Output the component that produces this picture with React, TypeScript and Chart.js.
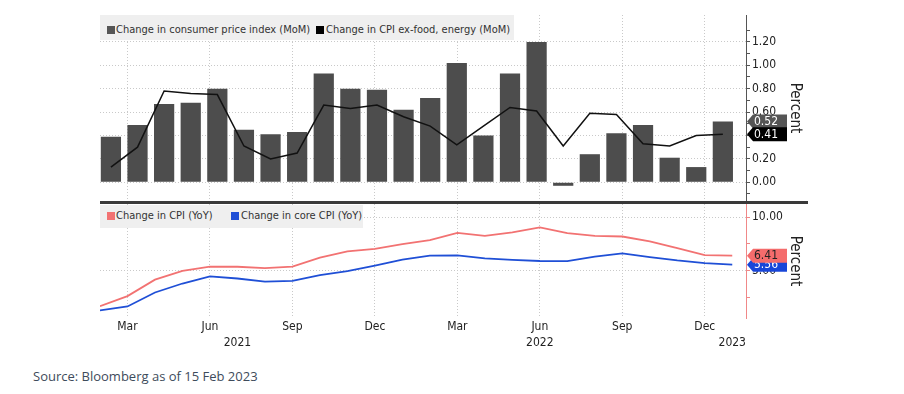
import React, { useEffect, useRef } from 'react';
import { Chart, registerables } from 'chart.js';

Chart.register(...registerables);

// ---- Data (Feb 2021 .. Jan 2023) ----
const months = [
  '2021-02', '2021-03', '2021-04', '2021-05', '2021-06', '2021-07', '2021-08', '2021-09',
  '2021-10', '2021-11', '2021-12', '2022-01', '2022-02', '2022-03', '2022-04', '2022-05',
  '2022-06', '2022-07', '2022-08', '2022-09', '2022-10', '2022-11', '2022-12', '2023-01',
];
const cpiMoM = [0.39, 0.49, 0.67, 0.68, 0.80, 0.45, 0.41, 0.43, 0.93, 0.80, 0.79, 0.62,
  0.72, 1.02, 0.40, 0.93, 1.20, -0.03, 0.24, 0.42, 0.49, 0.21, 0.13, 0.52];
const coreMoM = [0.13, 0.30, 0.78, 0.76, 0.75, 0.31, 0.20, 0.25, 0.66, 0.63, 0.66, 0.56,
  0.48, 0.32, 0.48, 0.64, 0.61, 0.31, 0.59, 0.58, 0.33, 0.31, 0.40, 0.41];
const cpiYoY = [1.68, 2.62, 4.16, 4.99, 5.39, 5.37, 5.25, 5.39, 6.22, 6.81, 7.04, 7.48,
  7.87, 8.54, 8.26, 8.58, 9.06, 8.52, 8.26, 8.20, 7.75, 7.11, 6.45, 6.41];
const coreYoY = [1.28, 1.65, 2.96, 3.80, 4.47, 4.27, 3.98, 4.04, 4.58, 4.96, 5.48, 6.04,
  6.41, 6.44, 6.16, 6.02, 5.91, 5.90, 6.32, 6.63, 6.27, 5.96, 5.71, 5.56];

const topMajorTicks = [0, 0.2, 0.4, 0.6, 0.8, 1.0, 1.2];
const topMinorTicks = [-0.1, 0.1, 0.3, 0.5, 0.7, 0.9, 1.1, 1.3];
const bottomMajorTicks = [5, 10];
const bottomMinorTicks = [2.5, 7.5];
const quarterNames: Record<string, string> = { '03': 'Mar', '06': 'Jun', '09': 'Sep', '12': 'Dec' };
const yearLabels: Record<string, string> = { '2021-07': '2021', '2022-06': '2022', '2023-01': '2023' };

const legendTop = ['Change in consumer price index (MoM)', 'Change in CPI ex-food, energy (MoM)'];
const legendBottom = ['Change in CPI (YoY)', 'Change in core CPI (YoY)'];

// ---- Styles ----
const FONT = "'DejaVu Sans Condensed', 'Liberation Sans', Arial, sans-serif";
const GRID = '#c9c9c9';
const BAR = '#4d4d4d';
const CORE_LINE = '#111111';
const RED = '#f27272';
const BLUE = '#1f4fd6';

const quarterIdx = months.map((m, i) => (quarterNames[m.slice(5)] ? i : -1)).filter((i) => i >= 0);
const xTickIdx = months
  .map((m, i) => (quarterNames[m.slice(5)] || yearLabels[m] ? i : -1))
  .filter((i) => i >= 0);

const isIn = (arr: number[], v: number) => arr.some((a) => Math.abs(a - v) < 1e-6);

function makeTagPlugin(tags: { ds: number; fill: string; text: string }[]) {
  return {
    id: 'valueTags',
    afterDraw(chart: any) {
      const { ctx, chartArea } = chart;
      const y = chart.scales.y;
      tags.forEach((t) => {
        const data = chart.data.datasets[t.ds].data;
        const last = data[data.length - 1];
        const v = typeof last === 'number' ? last : last.y;
        const py = y.getPixelForValue(v);
        const x0 = chartArea.right + 1;
        const h = 14, w = 40, a = 6;
        ctx.save();
        ctx.beginPath();
        ctx.moveTo(x0, py);
        ctx.lineTo(x0 + a, py - h / 2);
        ctx.lineTo(x0 + w, py - h / 2);
        ctx.lineTo(x0 + w, py + h / 2);
        ctx.lineTo(x0 + a, py + h / 2);
        ctx.closePath();
        ctx.fillStyle = t.fill;
        ctx.fill();
        ctx.fillStyle = t.text;
        ctx.font = `12px ${FONT}`;
        ctx.textBaseline = 'middle';
        ctx.textAlign = 'left';
        ctx.fillText(v.toFixed(2), x0 + 7, py + 0.5);
        ctx.restore();
      });
    },
  };
}

export default function App() {
  const topRef = useRef<HTMLCanvasElement>(null);
  const botRef = useRef<HTMLCanvasElement>(null);

  useEffect(() => {
    const tickFont = { family: FONT, size: 12 };
    const titleFont = { family: FONT, size: 15 };

    const top = new Chart(topRef.current as HTMLCanvasElement, {
      type: 'bar',
      data: {
        datasets: [
          {
            type: 'line',
            label: legendTop[1],
            data: coreMoM.map((v, i) => ({ x: i, y: v })),
            borderColor: CORE_LINE,
            borderWidth: 1.5,
            pointRadius: 0,
            tension: 0,
            order: 0,
          } as any,
          {
            type: 'bar',
            label: legendTop[0],
            data: cpiMoM.map((v, i) => ({ x: i, y: v })),
            backgroundColor: BAR,
            barPercentage: 0.76,
            categoryPercentage: 1,
            order: 1,
          } as any,
        ],
      },
      options: {
        responsive: false,
        animation: false,
        devicePixelRatio: 1,
        layout: { padding: 0 },
        plugins: { legend: { display: false }, tooltip: { enabled: false } },
        scales: {
          x: { type: 'linear', min: -0.41, max: 23.87, offset: false, display: false },
          xg: {
            type: 'linear',
            axis: 'x',
            position: 'bottom',
            min: 0,
            max: 23.5,
            offset: false,
            afterBuildTicks: (s: any) => {
              s.ticks = quarterIdx.map((v) => ({ value: v }));
            },
            ticks: { display: false },
            grid: { color: GRID, drawTicks: false, offset: false },
            border: { display: false, dash: [1, 2] },
            afterFit: (s: any) => {
              s.height = 0;
              s.paddingLeft = 0;
              s.paddingRight = 0;
            },
          },
          y: {
            position: 'right',
            min: -0.16,
            max: 1.43,
            afterBuildTicks: (s: any) => {
              s.ticks = [...topMinorTicks, ...topMajorTicks].sort((a, b) => a - b).map((v) => ({ value: v }));
            },
            ticks: {
              autoSkip: false,
              font: tickFont,
              color: '#222',
              padding: 2,
              callback: (v: any) => (isIn(topMajorTicks, v) ? Number(v).toFixed(2) : ''),
            },
            grid: {
              color: (ctx: any) => (ctx.tick && isIn(topMajorTicks, ctx.tick.value) ? GRID : 'transparent'),
              tickColor: '#555',
              tickLength: 4,
            },
            border: { color: '#555', dash: [1, 2] },
            title: { display: true, text: 'Percent', font: titleFont, color: '#222', padding: 0 },
            afterFit: (s: any) => {
              s.width = 58;
              s.paddingTop = 0;
              s.paddingBottom = 0;
            },
          },
        },
      } as any,
      plugins: [makeTagPlugin([
        { ds: 1, fill: '#555555', text: '#ffffff' },
        { ds: 0, fill: '#000000', text: '#ffffff' },
      ])],
    });

    const bottom = new Chart(botRef.current as HTMLCanvasElement, {
      type: 'line',
      data: {
        datasets: [
          {
            label: legendBottom[0],
            data: cpiYoY.map((v, i) => ({ x: i, y: v })),
            borderColor: RED,
            borderWidth: 1.8,
            pointRadius: 0,
            tension: 0,
          },
          {
            label: legendBottom[1],
            data: coreYoY.map((v, i) => ({ x: i, y: v })),
            borderColor: BLUE,
            borderWidth: 1.8,
            pointRadius: 0,
            tension: 0,
          },
        ],
      },
      options: {
        responsive: false,
        animation: false,
        devicePixelRatio: 1,
        layout: { padding: 0 },
        plugins: { legend: { display: false }, tooltip: { enabled: false } },
        scales: {
          x: {
            type: 'linear',
            min: 0,
            max: 23.5,
            offset: false,
            afterBuildTicks: (s: any) => {
              s.ticks = xTickIdx.map((v) => ({ value: v }));
            },
            ticks: {
              autoSkip: false,
              maxRotation: 0,
              font: { family: FONT, size: 12, lineHeight: 1.4 },
              color: '#222',
              padding: 0,
              callback: (v: any) => {
                const m = months[Math.round(v)];
                const q = quarterNames[m.slice(5)] || '';
                const y = yearLabels[m];
                return y ? [q, y] : q;
              },
            },
            grid: {
              color: (ctx: any) => (ctx.tick && quarterIdx.includes(Math.round(ctx.tick.value)) ? GRID : 'transparent'),
              drawTicks: false,
            },
            border: { display: false, dash: [1, 2] },
            afterFit: (s: any) => {
              s.height = 40;
              s.paddingLeft = 0;
              s.paddingRight = 0;
            },
          },
          y: {
            position: 'right',
            min: 0.571,
            max: 11.245,
            afterBuildTicks: (s: any) => {
              s.ticks = [...bottomMinorTicks, ...bottomMajorTicks].sort((a, b) => a - b).map((v) => ({ value: v }));
            },
            ticks: {
              autoSkip: false,
              font: tickFont,
              color: '#222',
              padding: 2,
              callback: (v: any) => (isIn(bottomMajorTicks, v) ? Number(v).toFixed(2) : ''),
            },
            grid: {
              color: (ctx: any) => (ctx.tick && isIn(bottomMajorTicks, ctx.tick.value) ? GRID : 'transparent'),
              tickColor: '#f08888',
              tickLength: 4,
            },
            border: { color: '#f08888', dash: [1, 2] },
            title: { display: true, text: 'Percent', font: titleFont, color: '#222', padding: 0 },
            afterFit: (s: any) => {
              s.width = 58;
              s.paddingTop = 0;
              s.paddingBottom = 0;
            },
          },
        },
      } as any,
      plugins: [makeTagPlugin([
        { ds: 1, fill: '#1846d8', text: '#ffffff' },
        { ds: 0, fill: '#f46c6c', text: '#222222' },
      ])],
    });

    return () => {
      top.destroy();
      bottom.destroy();
    };
  }, []);

  const legendText: React.CSSProperties = {
    position: 'absolute',
    fontFamily: FONT,
    fontSize: 11,
    lineHeight: '14px',
    color: '#333',
    whiteSpace: 'nowrap',
  };
  const marker = (left: number, top: number, color: string): React.CSSProperties => ({
    position: 'absolute', left, top, width: 8, height: 8, background: color,
  });

  return (
    <div style={{ position: 'absolute', left: 0, top: 0, width: 904, height: 394, background: '#fff', overflow: 'hidden' }}>
      <canvas ref={topRef} width={704} height={186}
        style={{ position: 'absolute', left: 100, top: 15, width: 704, height: 186 }} />
      <canvas ref={botRef} width={704} height={154}
        style={{ position: 'absolute', left: 100, top: 204, width: 704, height: 154 }} />

      <div style={{ position: 'absolute', left: 100, top: 201, width: 708, height: 3, background: '#3a3a3a' }} />

      <div style={{ position: 'absolute', left: 100, top: 15, width: 414, height: 25, background: '#efefef' }} />
      <div style={marker(107, 26, '#555555')} />
      <div style={{ ...legendText, left: 116, top: 23 }}>{legendTop[0]}</div>
      <div style={marker(316, 26, '#000000')} />
      <div style={{ ...legendText, left: 326, top: 23 }}>{legendTop[1]}</div>

      <div style={{ position: 'absolute', left: 100, top: 205, width: 263, height: 23, background: '#efefef' }} />
      <div style={marker(107, 212, RED)} />
      <div style={{ ...legendText, left: 116, top: 209 }}>{legendBottom[0]}</div>
      <div style={marker(231, 212, BLUE)} />
      <div style={{ ...legendText, left: 241, top: 209 }}>{legendBottom[1]}</div>

      <div style={{ position: 'absolute', left: 33, top: 367, fontFamily: "'Open Sans', 'Noto Sans', sans-serif", fontSize: 13, lineHeight: '18px', color: '#3e4b5b', whiteSpace: 'nowrap' }}>
        Source: Bloomberg as of 15 Feb 2023
      </div>
    </div>
  );
}
